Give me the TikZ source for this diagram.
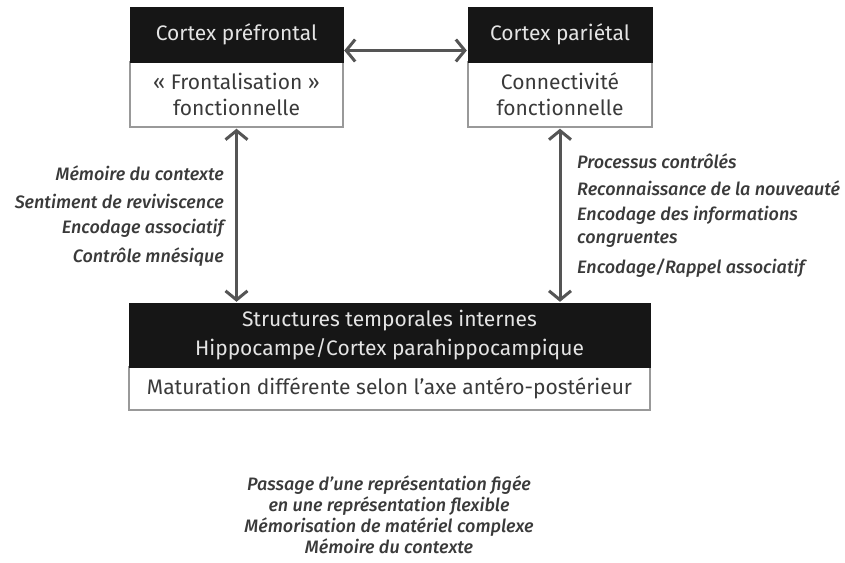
\documentclass[tikz,border=0pt]{standalone}
\usepackage{fontspec}
\setmainfont{Fira Sans}
\newfontfamily\notefont{Fira Sans}[UprightFont={* Medium}, ItalicFont={* Medium Italic}]
\usetikzlibrary{arrows.meta}
\definecolor{inkdark}{HTML}{161616}
\definecolor{txtlight}{HTML}{E4E4E4}
\definecolor{txtdark}{HTML}{3A3A3A}
\definecolor{edgegray}{HTML}{999999}
\definecolor{arrowgray}{HTML}{555555}
\tikzset{
  head/.style={rectangle, fill=inkdark, draw=inkdark, text=txtlight, font=\fontsize{21}{29}\selectfont, align=center, inner sep=0pt},
  body/.style={rectangle, fill=white, draw=edgegray, line width=1.4pt, text=txtdark, font=\fontsize{21}{26}\selectfont, align=center, inner sep=0pt},
  note/.style={text=txtdark, font=\notefont\fontsize{18}{20}\selectfont\itshape, inner sep=0pt},
  link/.style={draw=arrowgray, line width=3pt, {Straight Barb[length=9pt,width=22pt]}-{Straight Barb[length=9pt,width=22pt]}}
}
\begin{document}
\begin{tikzpicture}[x=1pt,y=-1pt]
\useasboundingbox (0,0) rectangle (845,562);
% prefrontal block
\node[body, minimum width=213pt, minimum height=65pt] (pfb) at (236.5,94.5) {« Frontalisation »\\fonctionnelle};
\node[head, minimum width=213pt, minimum height=55pt] (pfh) at (236.5,34.5) {Cortex préfrontal};
% parietal block
\node[body, minimum width=184pt, minimum height=65pt] (pab) at (560,94.5) {Connectivité\\fonctionnelle};
\node[head, minimum width=184pt, minimum height=55pt] (pah) at (560,34.5) {Cortex pariétal};
% medial temporal block
\node[body, minimum width=521pt, minimum height=43pt] (btb) at (389.5,388.5) {Maturation différente selon l’axe antéro-postérieur};
\node[head, minimum width=521pt, minimum height=64pt] (bth) at (389.5,335) {Structures temporales internes\\Hippocampe/Cortex parahippocampique};
% connectors
\draw[link, shorten <=1pt, shorten >=1pt] ([yshift=-16pt]pfh.east) -- ([yshift=-16pt]pah.west);
\draw[link, shorten <=1pt, shorten >=1pt] (pfb.south) -- (pfb.south |- bth.north);
\draw[link, shorten <=1pt, shorten >=1pt] (pab.south) -- (pab.south |- bth.north);
% left labels
\node[note, anchor=east] (l1) at (224,173) {Mémoire du contexte};
\node[note, anchor=east] (l2) at (224,201) {Sentiment de reviviscence};
\node[note, anchor=east] (l3) at (224,228) {Encodage associatif};
\node[note, anchor=east] (l4) at (224,257) {Contrôle mnésique};
% right labels
\node[note, anchor=west] (r1) at (577,161) {Processus contrôlés};
\node[note, anchor=west] (r2) at (577,188) {Reconnaissance de la nouveauté};
\node[note, anchor=west] (r3) at (577,215) {Encodage des informations};
\node[note, anchor=west] (r4) at (577,240) {congruentes};
\node[note, anchor=west] (r5) at (577,268) {Encodage/Rappel associatif};
% bottom caption
\node[note, align=center, font=\notefont\fontsize{18}{21}\selectfont\itshape] (cap) at (389,515) {Passage d’une représentation figée\\en une représentation flexible\\Mémorisation de matériel complexe\\Mémoire du contexte};
\end{tikzpicture}
\end{document}
